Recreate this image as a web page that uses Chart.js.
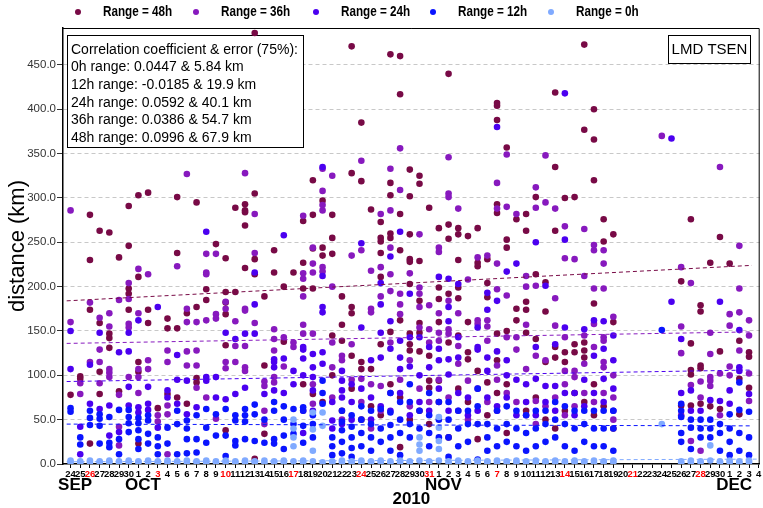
<!DOCTYPE html>
<html>
<head>
<meta charset="utf-8">
<script src="https://cdn.jsdelivr.net/npm/chart.js@4.4.0/dist/chart.umd.min.js"></script>
<style>
  html, body { margin: 0; padding: 0; background: #fff; }
  #chart { display: block; }
</style>
</head>
<body>
<canvas id="chart" width="763" height="508"></canvas>
<script>
'use strict';

// ***** DATA *****
// x = day index, 0 = 24 Sep 2010 ... 71 = 4 Dec 2010
const dayLabels = [24, 25, 26, 27, 28, 29, 30,
  1, 2, 3, 4, 5, 6, 7, 8, 9, 10, 11, 12, 13, 14, 15, 16, 17, 18, 19, 20, 21, 22, 23, 24, 25, 26, 27, 28, 29, 30, 31,
  1, 2, 3, 4, 5, 6, 7, 8, 9, 10, 11, 12, 13, 14, 15, 16, 17, 18, 19, 20, 21, 22, 23, 24, 25, 26, 27, 28, 29, 30,
  1, 2, 3, 4];
const sundays = [2, 9, 16, 23, 30, 37, 44, 51, 58, 65];
const months = ['SEP', 'OCT', 'NOV', 'DEC'];
const monthStart = [0, 7, 38, 68];
const yearLabel = '2010';
const yTicks = [0, 50, 100, 150, 200, 250, 300, 350, 400, 450];

const seriesNames = ['Range = 48h', 'Range = 36h', 'Range = 24h', 'Range = 12h', 'Range = 0h'];

const notes = [
  'Correlation coefficient & error (75%):',
  '0h range: 0.0447 & 5.84 km',
  '12h range: -0.0185 & 19.9 km',
  '24h range: 0.0592 & 40.1 km',
  '36h range: 0.0386 & 54.7 km',
  '48h range: 0.0996 & 67.9 km'
];
const siteName = 'LMD TSEN';

// [day, km]
const pts48 = [[0,78],[1,99],[1,96],[2,281],[2,230],[2,174],[2,23],[3,263],[3,159],[3,104],[3,79],
  [4,261],[4,147],[4,142],[4,131],[5,233],[5,82],[6,291],[6,246],[6,198],[6,192],[6,174],
  [7,303],[7,211],[7,115],[7,104],[7,23],[8,306],[8,174],[8,159],[9,63],[10,164],[10,153],[10,79],
  [11,301],[11,238],[11,153],[11,75],[12,170],[12,68],[13,295],[13,177],[13,97],[13,92],[14,197],[14,185],
  [15,248],[16,232],[16,194],[16,182],[16,169],[16,134],[16,38],[17,289],[17,194],
  [18,293],[18,286],[18,284],[18,269],[18,221],[19,486],[19,305],[19,231],[19,214],[19,6],
  [20,189],[20,111],[20,34],[21,241],[21,216],[22,200],[22,138],[23,216],[24,274],[24,227],[24,198],[24,90],
  [25,320],[25,281],[25,243],[25,198],[25,79],[26,297],[26,244],[26,235],[26,70],[27,281],[27,255],[27,237],[27,145],[27,100],
  [28,189],[28,157],[28,139],[28,60],[29,471],[29,328],[29,177],[29,170],[29,122],[29,85],[30,385],[30,319],[30,115],[30,107],[30,50],
  [31,287],[31,107],[31,65],[32,273],[32,255],[32,251],[32,238],[32,211],[32,135],[32,55],
  [33,462],[33,317],[33,303],[33,260],[33,255],[33,149],[33,90],[34,460],[34,417],[34,282],[34,241],[34,162],[34,75],[34,19],
  [35,332],[35,302],[35,259],[35,231],[35,228],[35,203],[35,147],[35,135],[35,128],[35,50],
  [36,325],[36,316],[36,229],[36,184],[36,159],[36,148],[36,127],[36,60],[37,289],[37,122],[37,94],[37,86],[37,45],
  [38,266],[38,199],[38,186],[38,160],[38,94],[38,70],[39,440],[39,270],[39,254],[39,192],[39,137],[39,30],
  [40,266],[40,259],[40,230],[40,199],[40,187],[40,145],[40,85],[41,257],[41,160],[41,126],[41,118],[41,70],
  [42,266],[42,227],[42,223],[42,105],[42,28],[43,231],[43,204],[43,188],[43,92],[43,55],
  [44,407],[44,404],[44,388],[44,293],[44,283],[44,147],[44,117],[44,80],[45,357],[45,253],[45,244],[45,150],[45,90],[45,35],
  [46,276],[46,175],[46,162],[47,282],[47,263],[47,183],[47,174],[47,148],[47,60],[48,301],[48,214],[48,141],[48,75],
  [49,205],[49,172],[49,115],[49,50],[50,419],[50,335],[50,263],[50,132],[50,120],[50,40],[51,300],[51,126],[51,115],[51,60],
  [52,301],[52,135],[52,126],[52,80],[53,473],[53,377],[53,137],[53,128],[53,120],[53,70],
  [54,400],[54,366],[54,320],[54,181],[54,90],[54,55],
  [55,276],[55,251],[55,65],[56,259],[56,160],[56,40],[63,206],[63,66],[64,276],[64,136],[64,106],[64,101],[64,66],
  [65,179],[65,172],[65,111],[65,108],[65,68],[66,227],[66,65],[67,256],[67,127],[67,62],[68,226],
  [69,139],[69,96],[69,56],[70,126],[70,121],[70,86]];

const pts36 = [[0,286],[0,160],[1,91],[1,79],[2,182],[2,115],[3,165],[3,129],[3,115],[3,91],
  [4,170],[4,155],[4,107],[4,103],[4,98],[5,185],[5,78],[5,42],[5,21],[6,204],[6,186],[6,158],[6,154],[6,98],
  [7,220],[7,170],[7,107],[7,98],[7,80],[8,214],[8,117],[8,107],[9,55],[9,48],[10,128],[10,115],[10,66],[10,56],[10,11],
  [11,223],[12,327],[12,175],[12,160],[12,127],[12,111],[13,160],[13,128],[13,111],[13,86],
  [14,237],[14,216],[14,214],[14,162],[14,75],[15,237],[15,169],[15,164],[15,51],[16,183],[16,175],[16,115],[16,108],
  [17,161],[17,133],[17,115],[18,328],[18,175],[18,173],[18,133],[18,109],[18,105],[19,282],[19,238],[19,159],
  [20,93],[20,88],[20,60],[20,45],[21,152],[21,141],[21,128],[21,98],[21,92],[22,143],[22,110],[23,137],[23,132],
  [24,280],[24,215],[24,209],[24,189],[24,157],[24,147],[24,60],[25,244],[25,226],[25,216],[25,147],[25,90],[25,68],
  [26,333],[26,308],[26,292],[26,286],[26,222],[26,217],[27,325],[27,200],[27,137],[27,109],[27,75],
  [28,122],[28,117],[28,50],[29,235],[29,135],[29,95],[30,342],[30,241],[30,96],[30,70],
  [31,218],[31,175],[31,171],[31,90],[31,40],[32,282],[32,222],[32,189],[32,88],[32,60],
  [33,333],[33,286],[33,244],[33,214],[33,195],[33,137],[33,80],[34,356],[34,309],[34,192],[34,180],[34,169],[34,95],
  [35,215],[35,117],[35,65],[36,259],[36,199],[36,192],[36,177],[36,154],[36,85],[37,179],[37,152],[37,137],[37,70],
  [38,244],[38,239],[38,170],[38,148],[38,139],[38,95],[39,346],[39,305],[39,301],[39,184],[39,152],[39,147],[39,75],
  [40,288],[40,170],[40,133],[40,113],[40,60],[41,208],[41,94],[41,50],[42,233],[42,162],[42,158],[42,85],
  [43,235],[43,162],[43,155],[43,139],[43,70],
  [44,317],[44,288],[44,226],[44,197],[44,111],[44,95],[44,60],[45,349],[45,290],[45,190],[45,143],[45,80],
  [46,282],[46,143],[46,129],[46,70],[47,212],[47,200],[47,157],[47,107],[47,55],
  [48,312],[48,289],[48,201],[48,122],[48,71],[48,45],[49,348],[49,295],[49,117],[49,65],
  [50,288],[50,187],[50,156],[50,75],[51,268],[51,232],[51,143],[51,105],[51,90],[51,55],[52,231],[52,105],[52,98],[52,65],
  [53,265],[53,212],[53,145],[53,113],[53,80],[54,247],[54,241],[54,198],[54,158],[54,132],[54,70],
  [55,241],[55,226],[55,198],[55,143],[55,139],[55,115],[55,109],[55,80],[56,166],[56,100],[56,75],[56,50],[61,370],
  [63,222],[63,155],[63,125],[63,55],[64,204],[64,89],[64,26],[65,93],[65,75],[65,15],
  [66,148],[66,124],[66,98],[66,94],[66,88],[67,335],[67,102],[67,55],[68,169],[68,156],[68,110],[68,100],
  [69,246],[69,198],[69,171],[69,128],[70,162],[70,145],[70,102],[70,71]];

const pts24 = [[0,150],[0,107],[1,42],[1,11],[2,112],[2,68],[3,148],[3,62],[4,66],[4,32],[5,126],[5,36],
  [6,148],[6,127],[6,87],[6,66],[7,162],[7,64],[7,58],[8,87],[8,68],[8,61],[9,177],[9,41],[10,83],[10,75],
  [11,123],[11,95],[11,68],[12,94],[12,56],[13,64],[14,262],[14,98],[14,94],[15,98],[15,75],[16,148],[16,73],
  [17,141],[17,79],[18,147],[18,86],[19,216],[19,180],[19,147],[20,79],[21,118],[21,115],[21,109],[21,83],
  [22,258],[22,119],[22,80],[23,105],[23,90],[24,132],[24,129],[24,119],[24,100],[24,35],[25,124],[25,109],[25,98],[25,83],[25,60],
  [26,335],[26,212],[26,177],[26,171],[26,126],[26,113],[27,70],[27,49],[27,40],[28,105],[28,94],[28,83],[28,75],[28,45],
  [29,90],[29,70],[29,50],[30,249],[30,154],[30,85],[31,117],[31,75],[31,50],[32,204],[32,180],[32,148],[32,120],[32,65],
  [33,234],[33,161],[33,130],[33,60],[34,262],[34,139],[34,120],[34,107],[34,80],[35,192],[35,143],[35,110],[35,55],
  [36,143],[36,100],[36,70],[37,132],[37,109],[37,60],[38,211],[38,130],[38,117],[38,85],
  [39,209],[39,177],[39,161],[39,118],[39,101],[39,60],[40,203],[40,143],[40,120],[40,80],[41,75],[41,55],
  [42,154],[42,132],[42,129],[42,60],[43,193],[43,174],[43,120],[43,105],[43,75],[44,380],[44,184],[44,127],[44,65],
  [45,217],[45,117],[45,100],[45,75],[46,226],[46,95],[46,55],[47,90],[47,70],[48,250],[48,132],[48,96],[48,55],
  [49,201],[49,88],[49,70],[50,135],[50,88],[50,60],[51,418],[51,253],[51,154],[51,80],[52,80],[52,55],
  [53,152],[53,95],[53,65],[54,162],[54,122],[54,80],[55,161],[55,130],[55,96],[55,70],[56,145],[56,117],[56,85],[56,60],
  [62,367],[62,183],[63,141],[63,80],[64,83],[64,60],[65,60],[66,72],[67,183],[67,71],[68,83],[68,68],
  [69,151],[69,109],[69,105],[70,79]];

const pts12 = [[0,63],[0,59],[1,30],[1,22],[2,60],[2,52],[2,44],[3,56],[3,51],[3,43],[3,23],[4,53],[4,24],[4,19],
  [5,61],[5,28],[5,11],[6,61],[6,53],[6,46],[6,36],[7,52],[7,46],[7,38],[7,28],[7,17],[8,55],[8,49],[8,34],[8,23],
  [9,30],[9,20],[9,11],[10,41],[10,23],[11,60],[11,45],[11,11],[12,49],[12,40],[12,28],[12,12],[13,55],[13,28],[13,13],
  [14,62],[14,41],[14,24],[15,56],[15,32],[16,62],[16,32],[16,9],[17,55],[17,49],[17,26],[17,21],
  [18,62],[18,55],[18,48],[18,28],[19,67],[19,56],[19,26],[20,50],[20,24],[21,70],[21,60],[21,28],[21,23],
  [22,65],[22,50],[22,32],[22,17],[23,62],[23,45],[23,34],[24,64],[24,60],[24,43],[24,24],[25,55],[25,45],[25,30],
  [26,94],[26,80],[26,68],[27,30],[27,20],[27,10],[28,60],[28,48],[28,38],[28,25],[28,12],
  [29,55],[29,42],[29,30],[29,18],[29,8],[30,65],[30,50],[30,35],[30,20],[31,60],[31,45],[31,30],[31,15],
  [32,62],[32,40],[32,25],[33,80],[33,58],[33,44],[33,30],[33,15],[34,70],[34,50],[34,35],[34,10],
  [35,90],[35,70],[35,45],[35,30],[36,60],[36,40],[37,80],[37,55],[37,35],[37,20],[38,70],[38,50],[38,30],
  [39,70],[39,50],[39,30],[39,8],[40,60],[40,40],[40,20],[41,60],[41,45],[41,25],[42,85],[42,65],[42,45],[42,5],
  [43,45],[43,30],[43,15],[44,60],[44,40],[44,20],[45,65],[45,45],[45,25],[46,60],[46,40],[46,20],
  [47,55],[47,35],[47,15],[48,60],[48,40],[48,20],[49,60],[49,45],[49,25],[50,70],[50,50],[50,30],
  [51,65],[51,45],[51,20],[52,60],[52,40],[52,15],[53,60],[53,45],[53,25],[54,60],[54,40],[54,20],
  [55,60],[55,40],[55,20],[56,60],[56,40],[56,15],[61,151],[63,68],[63,60],[63,53],[63,35],[63,25],
  [64,50],[64,41],[64,17],[65,50],[65,40],[65,30],[66,50],[66,40],[66,30],[67,45],[67,35],[67,15],
  [68,56],[68,40],[68,25],[68,10],[69,92],[69,61],[69,35],[69,15],[70,59],[70,30],[70,10]];

const pts0 = [[0,2],[0,4],[1,3],[1,1],[2,2],[2,4],[3,3],[3,2],[4,4],[4,2],[5,3],[5,1],[6,2],[6,4],[7,3],[7,2],
  [8,4],[8,1],[9,2],[9,3],[10,4],[10,2],[11,3],[11,1],[12,2],[12,4],[13,3],[13,2],[14,4],[14,1],[15,2],[15,3],
  [16,4],[16,2],[17,3],[17,1],[18,2],[18,4],[19,3],[19,2],[20,4],[20,1],[21,2],[21,3],[22,4],[22,2],
  [23,3],[23,20],[23,30],[23,40],[23,50],[24,2],[24,4],[25,3],[25,15],[25,39],[25,58],[26,2],[26,43],[26,58],
  [27,3],[27,1],[28,2],[28,4],[29,3],[29,2],[30,4],[30,1],[31,2],[31,3],[32,4],[32,2],[33,3],[33,1],[34,2],[34,4],
  [35,3],[35,2],[36,4],[36,15],[36,22],[36,30],[37,2],[37,3],[38,4],[38,17],[38,26],[38,41],[38,53],[39,3],[39,1],
  [40,2],[40,4],[41,3],[41,2],[42,4],[42,1],[43,2],[43,3],[44,4],[44,2],[45,3],[45,1],[46,2],[46,4],[47,3],[47,2],
  [48,4],[48,1],[49,2],[49,3],[50,4],[50,2],[51,3],[51,1],[52,2],[52,4],[53,3],[53,2],[54,4],[54,1],[55,2],[55,3],
  [56,4],[56,2],[61,45],[63,3],[63,1],[64,2],[64,4],[65,3],[65,2],[66,4],[66,21],[67,2],[67,3],[68,4],[68,2],
  [69,3],[69,1],[70,2],[70,4]];

// regression lines, read at their two ends
const trend48 = [[-0.4,184],[70.3,224]];
const trend36 = [[-0.4,136],[70.3,149]];
const trend24 = [[-0.4,93],[70.3,106]];
const trend12 = [[-0.4,45],[70.3,43]];
const trend0 = [[-0.4,2.5],[71.1,5.5]];

// ***** STYLE *****
const seriesColors = ['#780a46', '#8719be', '#4b00f0', '#0a14ff', '#80aaff'];
const allPoints = [pts48, pts36, pts24, pts12, pts0];
const allTrends = [trend48, trend36, trend24, trend12, trend0];

function toXY(pairs) {
  return pairs.map(p => ({ x: p[0], y: p[1] }));
}

// datasets drawn last-index first, so 0h ends up on top
let datasets = [];
for (let i = 4; i >= 0; i--) {
  datasets.push({
    label: seriesNames[i] + ' fit',
    data: toXY(allTrends[i]),
    showLine: true,
    borderColor: seriesColors[i],
    borderWidth: 1,
    borderDash: [4, 3],
    pointRadius: 0
  });
}
for (let i = 4; i >= 0; i--) {
  datasets.push({
    label: seriesNames[i],
    data: toXY(allPoints[i]),
    backgroundColor: seriesColors[i],
    borderWidth: 0,
    pointRadius: 3.3,
    pointHoverRadius: 3.3
  });
}

// ***** PLUGIN: frame, legend, notes, month labels *****
const decorPlugin = {
  id: 'decor',
  beforeDatasetsDraw(chart) {
    const ctx = chart.ctx;
    ctx.save();
    // notes box
    ctx.fillStyle = '#fff';
    ctx.strokeStyle = '#000';
    ctx.lineWidth = 1;
    ctx.fillRect(67.5, 35.5, 236, 112);
    ctx.strokeRect(67.5, 35.5, 236, 112);
    ctx.fillStyle = '#000';
    ctx.font = '14px "Liberation Sans", Arial, sans-serif';
    ctx.textBaseline = 'middle';
    ctx.textAlign = 'left';
    for (let i = 0; i < notes.length; i++) {
      ctx.fillText(notes[i], 71, 50 + i * 17.6);
    }
    // site box
    ctx.fillStyle = '#fff';
    ctx.fillRect(668.5, 35.5, 82, 28);
    ctx.strokeRect(668.5, 35.5, 82, 28);
    ctx.fillStyle = '#000';
    ctx.font = '15px "Liberation Sans", Arial, sans-serif';
    ctx.textAlign = 'center';
    ctx.fillText(siteName, 709.5, 50);
    ctx.restore();
  },
  afterDraw(chart) {
    const ctx = chart.ctx;
    const area = chart.chartArea;
    const xScale = chart.scales.x;
    ctx.save();
    // top and right frame
    ctx.strokeStyle = '#000';
    ctx.lineWidth = 1;
    ctx.beginPath();
    ctx.moveTo(area.left, area.top + 0.5);
    ctx.lineTo(area.right - 0.5, area.top + 0.5);
    ctx.lineTo(area.right - 0.5, area.bottom);
    ctx.stroke();

    // legend (condensed bold text)
    const legendX = [78, 196, 316, 433, 551];
    ctx.font = 'bold 15px "Liberation Sans", Arial, sans-serif';
    ctx.textBaseline = 'middle';
    ctx.textAlign = 'left';
    for (let i = 0; i < seriesNames.length; i++) {
      ctx.fillStyle = seriesColors[i];
      ctx.beginPath();
      ctx.arc(legendX[i], 12, 3, 0, Math.PI * 2);
      ctx.fill();
      ctx.fillStyle = '#000';
      ctx.save();
      ctx.translate(legendX[i] + 25, 12);
      ctx.scale(0.78, 1);
      ctx.fillText(seriesNames[i], 0, 0);
      ctx.restore();
    }

    // month labels
    ctx.font = 'bold 17px "Liberation Sans", Arial, sans-serif';
    ctx.textAlign = 'center';
    ctx.textBaseline = 'alphabetic';
    ctx.fillStyle = '#000';
    for (let i = 0; i < months.length; i++) {
      ctx.fillText(months[i], xScale.getPixelForValue(monthStart[i]) + 4.5, 490);
    }
    ctx.restore();
  }
};

// ***** CHART *****
const ctx = document.getElementById('chart').getContext('2d');
const myChart = new Chart(ctx, { //eslint-disable-line
  type: 'scatter',
  data: { datasets: datasets },
  options: {
    responsive: false,
    animation: false,
    devicePixelRatio: 1,
    layout: { padding: { top: 28, left: 0, right: 0, bottom: 0 } },
    plugins: {
      legend: { display: false },
      tooltip: { enabled: false }
    },
    scales: {
      x: {
        type: 'linear',
        min: -0.78,
        max: 71.1,
        afterBuildTicks: (scale) => {
          scale.ticks = dayLabels.map((d, i) => ({ value: i }));
        },
        afterFit: (scale) => {
          scale.height = 44;
          scale.paddingLeft = 0;
          scale.paddingRight = 0;
        },
        grid: { drawOnChartArea: false, tickLength: 4, tickColor: '#000' },
        border: { color: '#000', width: 1.5 },
        ticks: {
          autoSkip: false,
          maxRotation: 0,
          minRotation: 0,
          padding: 1,
          font: { family: '"Liberation Sans", Arial, sans-serif', size: 9.5, weight: 'bold' },
          color: (c) => sundays.includes(c.tick.value) ? '#ff0000' : '#000',
          callback: (v) => dayLabels[v]
        },
        title: {
          display: true,
          text: yearLabel,
          color: '#000',
          padding: 0,
          font: { family: '"Liberation Sans", Arial, sans-serif', size: 17, weight: 'bold', lineHeight: 1 }
        }
      },
      y: {
        min: 0,
        max: 491.7,
        afterBuildTicks: (scale) => {
          scale.ticks = yTicks.map(v => ({ value: v }));
        },
        afterFit: (scale) => {
          scale.width = 63;
        },
        grid: {
          color: (c) => (c.tick && c.tick.value === 0) ? 'rgba(0,0,0,0)' : '#c8c8c8',
          tickLength: 6,
          tickColor: '#333',
          tickBorderDash: []
        },
        border: { color: '#000', width: 1.5, dash: [4, 3] },
        ticks: {
          padding: 1,
          color: '#333',
          font: { family: '"Liberation Sans", Arial, sans-serif', size: 11.5 },
          callback: (v) => v.toFixed(1)
        },
        title: {
          display: true,
          text: 'distance (km)',
          color: '#000',
          padding: { top: 5, bottom: 0 },
          font: { family: '"Liberation Sans", Arial, sans-serif', size: 22 }
        }
      }
    }
  },
  plugins: [decorPlugin]
});
</script>
</body>
</html>
